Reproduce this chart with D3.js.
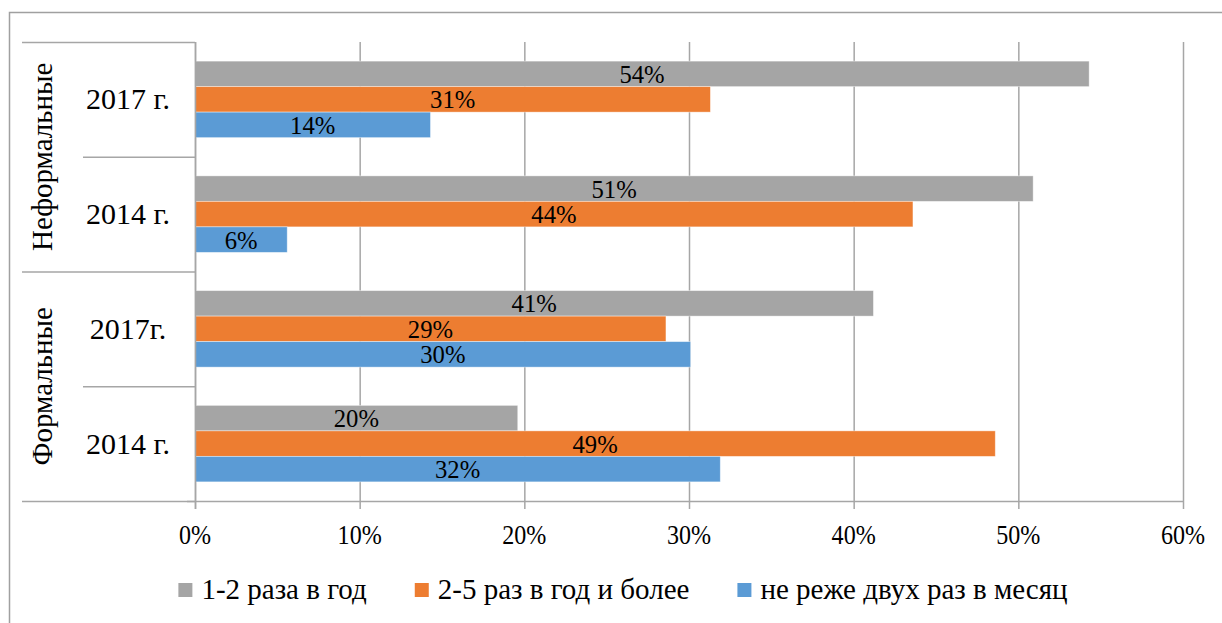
<!DOCTYPE html>
<html lang="ru">
  <head>
    <meta charset="utf-8">
    <title>Частота участия</title>
    <style>
      body { margin: 0; background: #fff; }
      text { font-family: 'Liberation Serif', 'Times New Roman', serif; fill: #000; }
    </style>
  </head>
  <body>
    <div id="viz"></div>
    <script src="https://cdn.jsdelivr.net/npm/d3@7/dist/d3.min.js"></script>
    <script>
      // data
      const categoryIds = ['nf2017', 'nf2014', 'f2017', 'f2014']
      const categoryLabels = ['2017 г.', '2014 г.', '2017г.', '2014 г.']
      const groupLabels = ['Неформальные', 'Формальные']
      const groupSpans = [2, 2]
      const series = ['1-2 раза в год', '2-5 раз в год и более', 'не реже двух раз в месяц']
      const onceTwiceYear = [0.543, 0.509, 0.412, 0.196]
      const twoFiveYear = [0.313, 0.436, 0.286, 0.486]
      const twiceMonth = [0.143, 0.056, 0.301, 0.319]
      const ticks = [0, 0.1, 0.2, 0.3, 0.4, 0.5, 0.6]
      const colors = ['#a5a5a5', '#ed7d31', '#5b9bd5']

      const width = 1222
      const height = 623
      const margin = { top: 42, left: 195, right: 39, bottom: 122 }

      const svg = d3.select('#viz').append('svg').attr('width', width).attr('height', height)

      // outer frame
      svg.append('rect')
        .attr('x', 9.5).attr('y', 12.5).attr('width', 1300).attr('height', 700)
        .attr('fill', 'none').attr('stroke', '#a0a0a0').attr('stroke-width', 1.5)

      const x = d3.scaleLinear().domain([0, 0.6]).range([margin.left, width - margin.right])
      const y = d3.scaleBand().domain(categoryIds).range([margin.top, height - margin.bottom])
      const ySeries = d3.scaleBand().domain(series).range([0, y.bandwidth()]).paddingOuter(0.75)
      const fmt = d3.format('.0%')

      // the source text is a little narrow, so squeeze it horizontally
      const put = (sel, px, py, s) => sel.attr('transform', `translate(${px},${py}) scale(${s},1)`)

      // gridlines
      const bottom = height - margin.bottom
      svg.append('g').selectAll('line')
        .data(ticks)
        .join('line')
          .attr('x1', d => x(d) + 0.5).attr('x2', d => x(d) + 0.5)
          .attr('y1', margin.top).attr('y2', bottom + 8)
          .attr('stroke', '#a6a6a6').attr('stroke-width', 1.5)

      // bars
      const rows = categoryIds.map((id, i) => ({
        id,
        values: [onceTwiceYear[i], twoFiveYear[i], twiceMonth[i]]
      }))
      const groupsG = svg.append('g').selectAll('g')
        .data(rows)
        .join('g')
          .attr('transform', d => `translate(0,${y(d.id)})`)

      groupsG.selectAll('rect')
        .data(d => d.values.map((v, k) => ({ v, k })))
        .join('rect')
          .attr('x', x(0))
          .attr('y', d => ySeries(series[d.k]))
          .attr('width', d => x(d.v) - x(0))
          .attr('height', ySeries.bandwidth())
          .attr('fill', d => colors[d.k])
          .attr('stroke', '#fff').attr('stroke-opacity', 0.5).attr('stroke-width', 0.8)

      groupsG.selectAll('text')
        .data(d => d.values.map((v, k) => ({ v, k })))
        .join('text')
          .each(function (d) {
            put(d3.select(this), (x(0) + x(d.v)) / 2, ySeries(series[d.k]) + ySeries.bandwidth() / 2 + 9, 0.95)
          })
          .attr('text-anchor', 'middle')
          .attr('font-size', 26)
          .text(d => fmt(d.v))

      // value axis
      svg.append('line')
        .attr('x1', x(0) - 8).attr('x2', x(0.6) + 0.5)
        .attr('y1', bottom + 0.5).attr('y2', bottom + 0.5)
        .attr('stroke', '#a6a6a6').attr('stroke-width', 1.5)
      svg.append('g').selectAll('text')
        .data(ticks)
        .join('text')
          .each(function (d) { put(d3.select(this), x(d), bottom + 43, 0.86) })
          .attr('text-anchor', 'middle')
          .attr('font-size', 28)
          .text(fmt)

      // category axis, two levels
      const catEdges = categoryIds.map(id => y(id)).concat([bottom])
      svg.append('line')
        .attr('x1', x(0) + 0.5).attr('x2', x(0) + 0.5)
        .attr('y1', margin.top).attr('y2', bottom + 8)
        .attr('stroke', '#a6a6a6').attr('stroke-width', 1.5)

      let start = 0
      const groupEdges = [0]
      groupSpans.forEach(n => { start += n; groupEdges.push(start) })
      svg.append('g').selectAll('line')
        .data(catEdges.map((e, i) => ({ e, outer: groupEdges.includes(i) })))
        .join('line')
          .attr('x1', d => d.outer ? 22 : 83).attr('x2', x(0))
          .attr('y1', d => d.e + 0.5).attr('y2', d => d.e + 0.5)
          .attr('stroke', '#a6a6a6').attr('stroke-width', 1.5)

      svg.append('g').selectAll('text')
        .data(categoryIds)
        .join('text')
          .each(function (d) { put(d3.select(this), 128, y(d) + y.bandwidth() / 2 + 10, 1) })
          .attr('text-anchor', 'middle')
          .attr('font-size', 30)
          .text((d, i) => categoryLabels[i])

      svg.append('g').selectAll('text')
        .data(groupLabels)
        .join('text')
          .attr('transform', (d, i) => {
            const cy = (catEdges[groupEdges[i]] + catEdges[groupEdges[i + 1]]) / 2
            return `translate(52,${cy}) rotate(-90)`
          })
          .attr('text-anchor', 'middle')
          .attr('font-size', 29)
          .text(d => d)

      // legend
      const legend = svg.append('g')
      const items = legend.selectAll('g')
        .data(series)
        .join('g')
      items.append('rect')
        .attr('y', -16).attr('width', 14).attr('height', 14)
        .attr('fill', (d, i) => colors[i])
      items.append('text')
        .attr('x', 23)
        .attr('font-size', 29)
        .text(d => d)
      let lx = 0
      items.each(function () {
        const g = d3.select(this)
        g.attr('transform', `translate(${lx},0)`)
        lx += 23 + g.select('text').node().getComputedTextLength() + 48
      })
      const total = lx - 48
      legend.attr('transform', `translate(${623 - total / 2},599)`)
    </script>
  </body>
</html>
